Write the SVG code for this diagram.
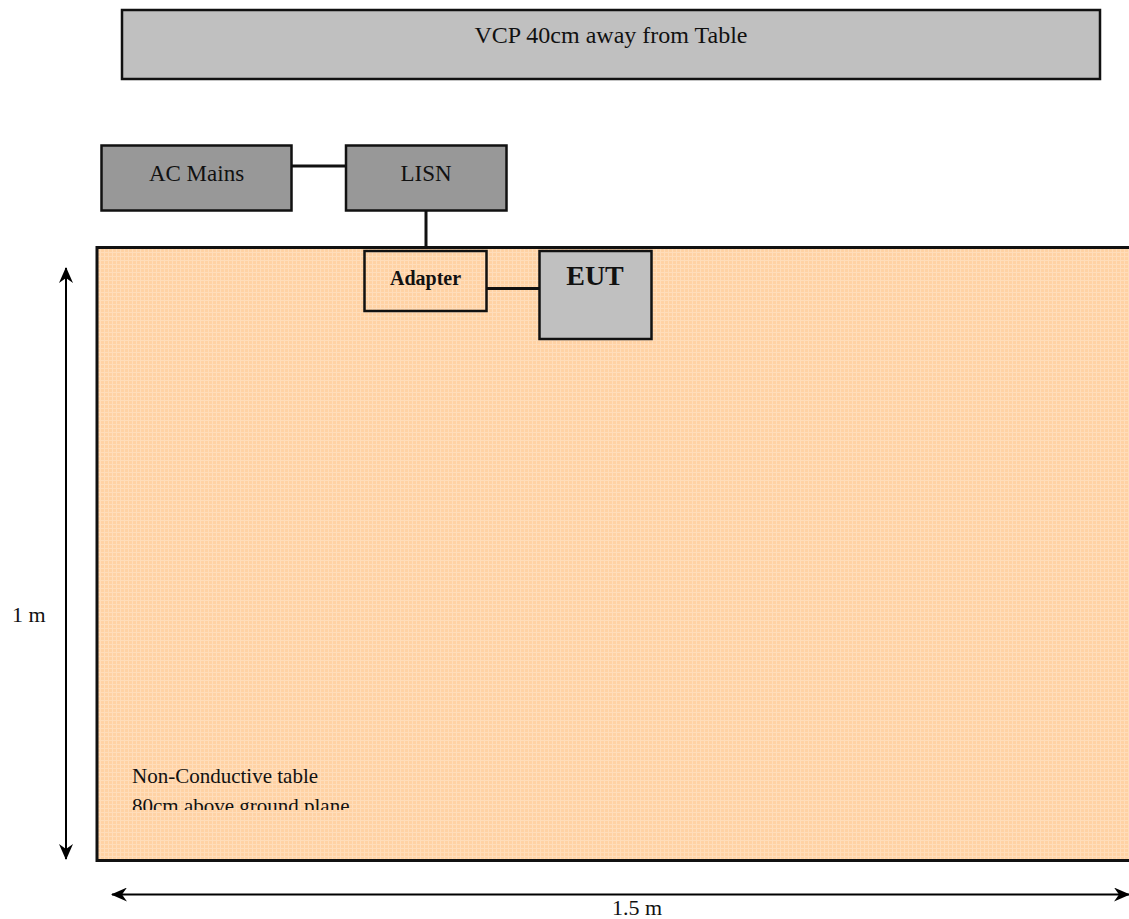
<svg xmlns="http://www.w3.org/2000/svg" width="1129" height="919" viewBox="0 0 1129 919">
<style>
.t{font-family:"Liberation Serif","Times New Roman",serif;fill:#111}
.box{stroke:#111;stroke-width:2.5}
.wire{stroke:#111;stroke-width:3;fill:none}
.dim{stroke:#000;stroke-width:2;fill:none}
</style>
<defs>
<pattern id="grid" width="4" height="4" patternUnits="userSpaceOnUse">
<rect width="4" height="4" fill="#FFD2A4"/>
<rect x="0" y="0" width="1" height="4" fill="#FFDDBA"/>
<rect x="0" y="0" width="4" height="1" fill="#FFDDBA"/>
</pattern>
<marker id="ah" viewBox="0 0 16 14" refX="15" refY="7" markerWidth="16" markerHeight="14" markerUnits="userSpaceOnUse" orient="auto-start-reverse">
<path d="M0,0 L16,7 L0,14 L5,7 Z" fill="#000"/>
</marker>
<clipPath id="clipTxt"><rect x="97" y="740" width="400" height="70"/></clipPath>
</defs>
<rect width="1129" height="919" fill="#fff"/>

<g id="vcp">
<rect class="box" x="122" y="10" width="978" height="69" fill="#C0C0C0"/>
<text class="t" x="611" y="43" font-size="24" text-anchor="middle">VCP 40cm away from Table</text>
</g>

<g id="table">
<rect x="97" y="247.5" width="1040" height="613" fill="url(#grid)" stroke="#111" stroke-width="3"/>
<g clip-path="url(#clipTxt)">
<text class="t" x="132" y="783" font-size="21">Non-Conductive table</text>
<text class="t" x="132" y="813" font-size="21">80cm above ground plane</text>
</g>
</g>

<g id="connectors">
<line class="wire" x1="292" y1="166" x2="346" y2="166"/>
<line class="wire" x1="426" y1="211" x2="426" y2="247"/>
<line class="wire" x1="487" y1="288.5" x2="539" y2="288.5"/>
<line class="dim" x1="66" y1="268" x2="66" y2="859" marker-start="url(#ah)" marker-end="url(#ah)"/>
<line class="dim" x1="112" y1="894.5" x2="1129" y2="894.5" marker-start="url(#ah)" marker-end="url(#ah)"/>
</g>

<g id="ac-mains">
<rect class="box" x="101.5" y="145.5" width="190" height="65" fill="#989898"/>
<text class="t" x="196.5" y="181" font-size="23" text-anchor="middle">AC Mains</text>
</g>

<g id="lisn">
<rect class="box" x="346" y="145.5" width="160.5" height="65" fill="#989898"/>
<text class="t" x="426" y="181" font-size="23" text-anchor="middle">LISN</text>
</g>

<g id="adapter">
<rect class="box" x="364.5" y="251" width="122" height="60" fill="url(#grid)"/>
<text class="t" x="425.5" y="285" font-size="20" font-weight="bold" text-anchor="middle">Adapter</text>
</g>

<g id="eut">
<rect class="box" x="539.5" y="251" width="112" height="88" fill="#C0C0C0"/>
<text class="t" x="595" y="285" font-size="28" font-weight="bold" text-anchor="middle">EUT</text>
</g>

<g id="labels">
<text class="t" x="12" y="622" font-size="22">1 m</text>
<text class="t" x="637" y="915" font-size="22" text-anchor="middle">1.5 m</text>
</g>
</svg>
